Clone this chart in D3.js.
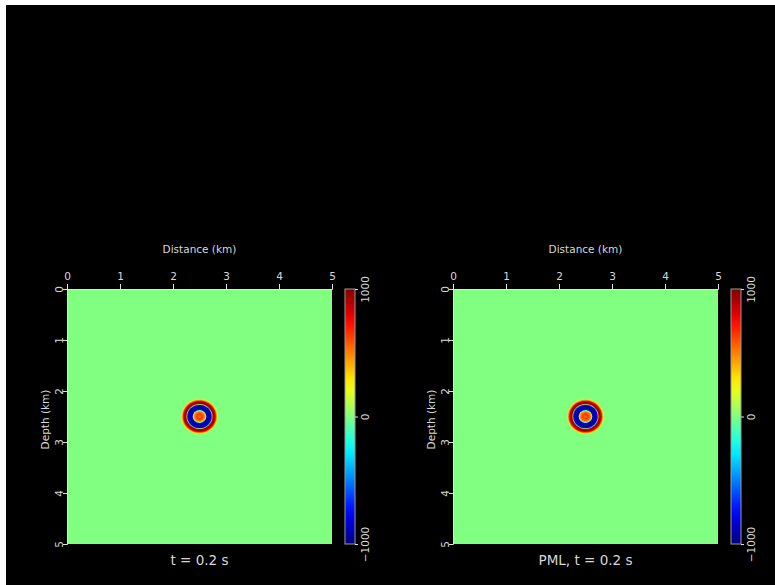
<!DOCTYPE html>
<html>
<head>
<meta charset="utf-8">
<script src="https://cdn.jsdelivr.net/npm/d3@7"></script>
<style>
  body { margin: 0; background: #fff; }
  text { font-family: "DejaVu Sans", sans-serif; fill: #d8d8d8; }
</style>
</head>
<body>
<script>
const width = 775;
const height = 585;

// panel titles
const titles = ["t = 0.2 s", "PML, t = 0.2 s"];
const distTicks = [0, 1, 2, 3, 4, 5];
const depthTicks = [0, 1, 2, 3, 4, 5];
const cbTicks = [-1000, 0, 1000];

// source location (km)
const srcX = 2.5;
const srcZ = 2.5;

// radial profile of the wavefield, outer ring first (radius km, amplitude)
const ringRadius = [0.35, 0.335, 0.32, 0.305, 0.285, 0.26, 0.245, 0.237, 0.227, 0.205, 0.17, 0.14, 0.128, 0.12, 0.11, 0.09, 0.06, 0.03];
const ringValue  = [  120,  380,   620,  850,  960,   900,  300,  -450,  -800, -930, -920, -780,  -200,  250,  450,  560,  640,  560];

const panelLeft = [67, 453];
const plotW = 265;
const plotH = 255;
const plotTop = 289;

// jet colormap
function jet(t) {
  const c = (v) => Math.max(0, Math.min(1, v));
  const r = c(1.5 - Math.abs(4 * t - 3));
  const g = c(1.5 - Math.abs(4 * t - 2));
  const b = c(1.5 - Math.abs(4 * t - 1));
  return d3.rgb(r * 255, g * 255, b * 255).toString();
}
const norm = d3.scaleLinear().domain([-1000, 1000]).range([0, 1]).clamp(true);
const color = (v) => jet(norm(v));

const svg = d3.select("body").append("svg")
  .attr("width", width)
  .attr("height", height)
  .style("display", "block");

svg.append("rect")
  .attr("x", 6).attr("y", 5)
  .attr("width", width - 6).attr("height", height - 5)
  .attr("fill", "#000");

const defs = svg.append("defs");
const grad = defs.append("linearGradient")
  .attr("id", "cbar")
  .attr("x1", 0).attr("y1", 1).attr("x2", 0).attr("y2", 0);
d3.range(0, 1.0001, 0.05).forEach((t) => {
  grad.append("stop").attr("offset", t).attr("stop-color", jet(t));
});
defs.append("filter").attr("id", "soft")
  .append("feGaussianBlur").attr("stdDeviation", 0.7);

const rings = ringRadius.map((r, i) => ({ r: r, v: ringValue[i] }));

titles.forEach((title, k) => {
  const left = panelLeft[k];
  const x = d3.scaleLinear().domain([0, 5]).range([left, left + plotW]);
  const y = d3.scaleLinear().domain([0, 5]).range([plotTop, plotTop + plotH]);

  const g = svg.append("g");

  // background (zero amplitude)
  g.append("rect")
    .attr("x", x(0)).attr("y", y(0))
    .attr("width", x(5) - x(0)).attr("height", y(5) - y(0))
    .attr("fill", color(0));

  g.append("g")
    .attr("filter", "url(#soft)")
    .selectAll("ellipse")
    .data(rings)
    .join("ellipse")
    .attr("cx", x(srcX))
    .attr("cy", y(srcZ))
    .attr("rx", (d) => x(srcX + d.r) - x(srcX))
    .attr("ry", (d) => y(srcZ + d.r) - y(srcZ))
    .attr("fill", (d) => color(d.v));

  // top axis
  const xAxis = g.append("g")
    .attr("transform", `translate(0,${plotTop})`)
    .call(d3.axisTop(x).tickValues(distTicks).tickSize(5).tickPadding(4).tickFormat(d3.format("d")));
  xAxis.select(".domain").attr("stroke", "#e0e0e0");
  xAxis.selectAll(".tick line").attr("stroke", "#e0e0e0");
  xAxis.selectAll("text").attr("font-size", 10.5).attr("fill", "#d8d8d8");

  // left axis
  const yAxis = g.append("g")
    .attr("transform", `translate(${left},0)`)
    .call(d3.axisLeft(y).tickValues(depthTicks).tickSize(4).tickPadding(0).tickFormat(d3.format("d")));
  yAxis.select(".domain").attr("stroke", "#e0e0e0");
  yAxis.selectAll(".tick line").attr("stroke", "#e0e0e0");
  yAxis.selectAll("text")
    .attr("font-size", 10.5).attr("fill", "#d8d8d8")
    .attr("x", null).attr("dy", null)
    .attr("text-anchor", "middle")
    .attr("transform", "translate(-8,0) rotate(-90) translate(0,4)");

  g.append("text")
    .attr("x", (x(0) + x(5)) / 2).attr("y", 253)
    .attr("text-anchor", "middle").attr("font-size", 10.5)
    .text("Distance (km)");

  g.append("text")
    .attr("transform", `translate(${left - 18},${(y(0) + y(5)) / 2 + 3}) rotate(-90)`)
    .attr("text-anchor", "middle").attr("font-size", 10.5)
    .text("Depth (km)");

  g.append("text")
    .attr("x", (x(0) + x(5)) / 2).attr("y", 565)
    .attr("text-anchor", "middle").attr("font-size", 13.5)
    .text(title);

  // colorbar
  const cbX = left + plotW + 13;
  const cb = d3.scaleLinear().domain([-1000, 1000]).range([plotTop + plotH, plotTop]);
  g.append("rect")
    .attr("x", cbX).attr("y", plotTop)
    .attr("width", 10).attr("height", plotH)
    .attr("fill", "url(#cbar)")
    .attr("stroke", "#9a9a9a").attr("stroke-width", 1);

  const cAxis = g.append("g")
    .attr("transform", `translate(${cbX + 10},0)`)
    .call(d3.axisRight(cb).tickValues(cbTicks).tickSize(3).tickFormat((d) => d < 0 ? "\u22121000" : d));
  cAxis.select(".domain").remove();
  cAxis.selectAll(".tick line").attr("stroke", "#e0e0e0");
  cAxis.selectAll("text")
    .attr("font-size", 10.5).attr("fill", "#d8d8d8")
    .attr("x", null).attr("dy", null)
    .attr("text-anchor", "middle")
    .attr("transform", "translate(10,0) rotate(-90) translate(0,4)");
});
</script>
</body>
</html>
